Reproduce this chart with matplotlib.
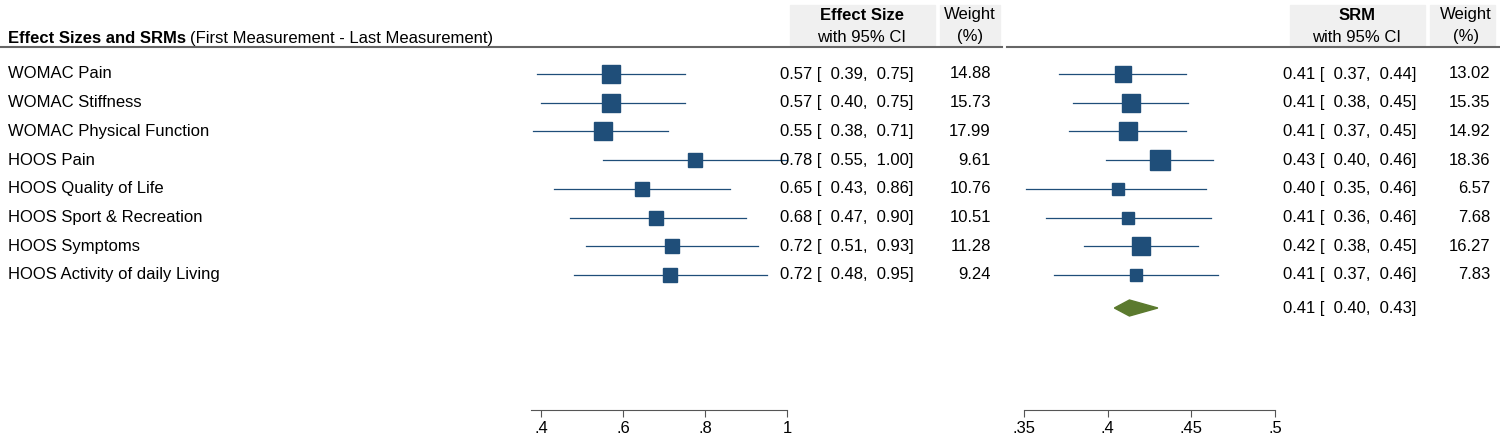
import numpy as np
import matplotlib.pyplot as plt
from matplotlib.patches import Rectangle, Polygon

plt.rcParams['font.family'] = ['Liberation Sans', 'DejaVu Sans']

labels = ["WOMAC Pain", "WOMAC Stiffness", "WOMAC Physical Function", "HOOS Pain",
          "HOOS Quality of Life", "HOOS Sport & Recreation", "HOOS Symptoms",
          "HOOS Activity of daily Living"]
es = [0.57, 0.57, 0.55, 0.775, 0.645, 0.68, 0.72, 0.715]
es_lo = [0.39, 0.40, 0.38, 0.55, 0.43, 0.47, 0.51, 0.48]
es_hi = [0.75, 0.75, 0.71, 1.00, 0.86, 0.90, 0.93, 0.95]
es_txt = ["0.57 [  0.39,  0.75]", "0.57 [  0.40,  0.75]", "0.55 [  0.38,  0.71]",
          "0.78 [  0.55,  1.00]", "0.65 [  0.43,  0.86]", "0.68 [  0.47,  0.90]",
          "0.72 [  0.51,  0.93]", "0.72 [  0.48,  0.95]"]
es_w = [14.88, 15.73, 17.99, 9.61, 10.76, 10.51, 11.28, 9.24]

srm = [0.409, 0.414, 0.412, 0.431, 0.406, 0.412, 0.420, 0.417]
srm_lo = [0.371, 0.379, 0.377, 0.399, 0.351, 0.363, 0.386, 0.368]
srm_hi = [0.447, 0.448, 0.447, 0.463, 0.459, 0.462, 0.454, 0.466]
srm_txt = ["0.41 [  0.37,  0.44]", "0.41 [  0.38,  0.45]", "0.41 [  0.37,  0.45]",
           "0.43 [  0.40,  0.46]", "0.40 [  0.35,  0.46]", "0.41 [  0.36,  0.46]",
           "0.42 [  0.38,  0.45]", "0.41 [  0.37,  0.46]"]
srm_w = [13.02, 15.35, 14.92, 18.36, 6.57, 7.68, 16.27, 7.83]
pooled, pooled_lo, pooled_hi = 0.413, 0.404, 0.430
pooled_txt = "0.41 [  0.40,  0.43]"

W, H = 1500, 440
fig = plt.figure(figsize=(15, 4.4), dpi=100)
navy = "#1f4e79"
fs = 12

def px(x, y):
    return x / W, 1 - y / H

# row positions in pixels from top
rows = [74 + 28.7 * i for i in range(len(labels))]
pool_y = 308

def make_ax(x0, x1, lim, ticks, ticklabels):
    ax = fig.add_axes([x0 / W, (H - 410) / H, (x1 - x0) / W, 410 / H])
    ax.set_xlim(*lim)
    ax.set_ylim(410, 0)
    for s in ["top", "left", "right"]:
        ax.spines[s].set_visible(False)
    ax.spines["bottom"].set_color("#555555")
    ax.set_yticks([])
    ax.set_xticks(ticks)
    ax.set_xticklabels(ticklabels, fontsize=fs)
    ax.tick_params(axis="x", length=5, color="#555555", pad=3)
    ax.patch.set_alpha(0)
    return ax

ax1 = make_ax(531, 787, (0.375, 1.0), [0.4, 0.6, 0.8, 1.0], [".4", ".6", ".8", "1"])
ax2 = make_ax(1024, 1275, (0.35, 0.5), [0.35, 0.4, 0.45, 0.5], [".35", ".4", ".45", ".5"])

for i, y in enumerate(rows):
    ax1.plot([es_lo[i], es_hi[i]], [y, y], color=navy, lw=0.9, clip_on=False)
    ax1.plot(es[i], y, "s", color=navy, ms=3.2 * np.sqrt(es_w[i]), clip_on=False)
    ax2.plot([srm_lo[i], srm_hi[i]], [y, y], color=navy, lw=0.9, clip_on=False)
    ax2.plot(srm[i], y, "s", color=navy, ms=3.2 * np.sqrt(srm_w[i]), clip_on=False)
    fig.text(*px(8, y), labels[i], fontsize=fs, va="center")
    fig.text(*px(780, y), es_txt[i], fontsize=fs, va="center")
    fig.text(*px(991, y), f"{es_w[i]:.2f}", fontsize=fs, va="center", ha="right")
    fig.text(*px(1283, y), srm_txt[i], fontsize=fs, va="center")
    fig.text(*px(1490, y), f"{srm_w[i]:.2f}", fontsize=fs, va="center", ha="right")

ax2.add_patch(Polygon([[pooled_lo, pool_y], [pooled, pool_y - 8], [pooled_hi, pool_y], [pooled, pool_y + 8]],
                      closed=True, color="#5b7a2e", clip_on=False))
fig.text(*px(1283, pool_y), pooled_txt, fontsize=fs, va="center")

# header boxes
for x0, x1 in [(790, 935), (940, 1000), (1290, 1425), (1430, 1495)]:
    fig.patches.append(Rectangle(px(x0, 45), (x1 - x0) / W, 40 / H, transform=fig.transFigure,
                                 color="#f0f0f0", zorder=0))
for xc, t1, t2 in [(862, "Effect Size", "with 95% CI"), (970, "Weight", "(%)"),
                   (1357, "SRM", "with 95% CI"), (1466, "Weight", "(%)")]:
    bold = t1 in ("Effect Size", "SRM")
    fig.text(*px(xc, 15), t1, fontsize=fs, ha="center", va="center", weight="bold" if bold else "normal")
    fig.text(*px(xc, 37), t2, fontsize=fs, ha="center", va="center")
for x0, x1 in [(0, 1002), (1007, 1500)]:
    fig.add_artist(plt.Line2D([x0 / W, x1 / W], [1 - 47 / H] * 2, transform=fig.transFigure,
                              color="#666666", lw=1.5))

t = fig.text(*px(8, 38), "Effect Sizes and SRMs", fontsize=fs, weight="bold", va="center")
fig.canvas.draw()
bb = t.get_window_extent()
fig.text(bb.x1 / W + 4 / W, 1 - 38 / H, "(First Measurement - Last Measurement)", fontsize=fs, va="center")

fig.savefig("out.png", dpi=100, facecolor="white")
